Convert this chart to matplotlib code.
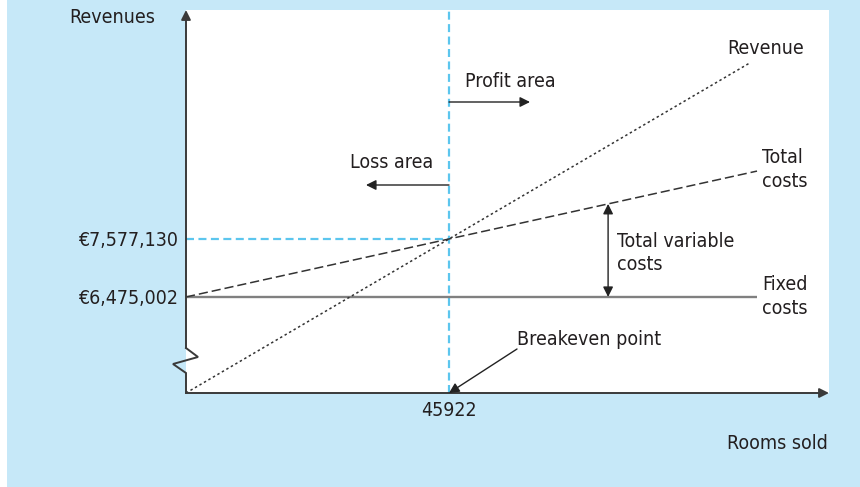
import matplotlib
matplotlib.use("Agg")
import matplotlib.pyplot as plt
from matplotlib import font_manager as fm
from matplotlib.lines import Line2D
from matplotlib.patches import Rectangle

# ---- data ----------------------------------------------------------------
breakeven_rooms = 45922
breakeven_revenue = 7_577_130
fixed_cost = 6_475_002

revenue_rooms = [0, 45922, 98_500]
revenue = [4_650_000, 7_577_130, 10_926_000]      # starts at the broken-axis floor

cost_rooms = [0, 45922, 99_700]
total_costs = [6_475_002, 7_577_130, 8_867_000]
fixed_costs = [6_475_002, 6_475_002, 6_475_002]

y_ticks = [6_475_002, 7_577_130]
y_tick_labels = ["€6,475,002", "€7,577,130"]
x_ticks = [45922]
x_tick_labels = ["45922"]

# ---- style ---------------------------------------------------------------
names = {f.name for f in fm.fontManager.ttflist}
if "Liberation Sans Narrow" in names:
    FONT = dict(family="Liberation Sans Narrow")
    FS = 15.5
else:
    FONT = dict(family="DejaVu Sans", stretch="condensed")
    FS = 14
TXT = "#231f20"
BG = "#c6e8f8"
BLUE = "#5cc6ee"
AX = "#3a3a3a"

W, H = 860, 487
fig = plt.figure(figsize=(W / 100, H / 100), dpi=100, facecolor="white")
fig.patches.append(Rectangle((7 / W, 0), 1, 1, transform=fig.transFigure,
                             facecolor=BG, edgecolor="none", zorder=-10))

L, R, T, B = 186, 829, 10, 393
ax = fig.add_axes([L / W, 1 - B / H, (R - L) / W, (B - T) / H])
ax.set_facecolor("white")
for s in ax.spines.values():
    s.set_visible(False)

ax.set_xlim(0, 112_270)
ax.set_ylim(4_650_000, 11_928_000)


def fpx(x, y):
    """pixel position -> figure fraction"""
    return x / W, 1 - y / H


def apx(x, y):
    """pixel position -> axes fraction"""
    return (x - L) / (R - L), (B - y) / (B - T)


# ticks
ax.set_yticks(y_ticks, y_tick_labels)
ax.set_xticks(x_ticks, x_tick_labels)
ax.tick_params(length=0, colors=TXT, labelsize=FS)
ax.tick_params(axis="y", pad=6)
ax.tick_params(axis="x", pad=6)
for lab in ax.get_xticklabels() + ax.get_yticklabels():
    lab.set_fontfamily(FONT["family"])
    if "stretch" in FONT:
        lab.set_fontstretch(FONT["stretch"])

# breakeven guides
ax.axvline(breakeven_rooms, color=BLUE, lw=1.6, dashes=(3.6, 2.0), zorder=1)
ax.plot([0, breakeven_rooms], [breakeven_revenue, breakeven_revenue],
        color=BLUE, lw=1.6, dashes=(3.6, 2.0), zorder=1)

# cost and revenue lines
ax.plot(cost_rooms, fixed_costs, color="#808080", lw=1.7, solid_capstyle="butt", zorder=2)
ax.plot(cost_rooms, total_costs, color="#333333", lw=1.1, dashes=(6, 2.6), zorder=3)
ax.plot(revenue_rooms, revenue, color="#333333", lw=1.1, dashes=(1.6, 1.8), zorder=3)

# axes with arrow heads and a break in the vertical axis
arrow_kw = dict(arrowstyle="-|>", color=AX, lw=1.4, mutation_scale=14,
                shrinkA=0, shrinkB=0)
ax.annotate("", xy=(1, 0), xytext=(0, 0), xycoords="axes fraction",
            arrowprops=arrow_kw, annotation_clip=False)
zx = [0, 0, 12 / (R - L), -13 / (R - L), 0, 0]
zy = [apx(0, 348)[1], apx(0, 348)[1], apx(0, 357)[1], apx(0, 364)[1],
      apx(0, 373)[1], 0]
ax.add_line(Line2D(zx, zy, transform=ax.transAxes, color=AX, lw=1.4,
                   clip_on=False, solid_joinstyle="miter"))
ax.annotate("", xy=(0, 1), xytext=(0, apx(0, 348)[1]), xycoords="axes fraction",
            arrowprops=arrow_kw, annotation_clip=False)

# area arrows
thin = dict(arrowstyle="-|>", color="#222222", lw=1.0, mutation_scale=15,
            shrinkA=0, shrinkB=0)
ax.annotate("", xy=apx(530, 102), xytext=apx(449, 102), xycoords="axes fraction",
            arrowprops=thin)
ax.annotate("", xy=apx(366, 185), xytext=apx(449, 185), xycoords="axes fraction",
            arrowprops=thin)

# total variable costs span (between fixed and total cost lines)
tv_rooms = 73_700
slope = (total_costs[1] - total_costs[0]) / (cost_rooms[1] - cost_rooms[0])
tv_top = total_costs[0] + slope * tv_rooms
ax.annotate("", xy=(tv_rooms, tv_top), xytext=(tv_rooms, fixed_cost),
            arrowprops=dict(arrowstyle="<|-|>", color="#222222", lw=1.0,
                            mutation_scale=15, shrinkA=0, shrinkB=0))

# breakeven pointer
ax.annotate("", xy=(breakeven_rooms, ax.get_ylim()[0]), xytext=apx(517, 349),
            textcoords="axes fraction",
            arrowprops=dict(arrowstyle="-|>", color="#222222", lw=1.0,
                            mutation_scale=15, shrinkA=0, shrinkB=0),
            annotation_clip=False)


def label(x, y, s, ha="left"):
    fig.text(*fpx(x, y), s, ha=ha, va="baseline", fontsize=FS, color=TXT, **FONT)


label(155, 23, "Revenues", ha="right")
label(828, 449, "Rooms sold", ha="right")
label(727, 54, "Revenue")
label(465, 87, "Profit area")
label(350, 168, "Loss area")
label(762, 163, "Total")
label(762, 187, "costs")
label(617, 247, "Total variable")
label(617, 270, "costs")
label(762, 290, "Fixed")
label(762, 314, "costs")
label(517, 345, "Breakeven point")

fig.savefig("out.png", dpi=100, facecolor=fig.get_facecolor())
